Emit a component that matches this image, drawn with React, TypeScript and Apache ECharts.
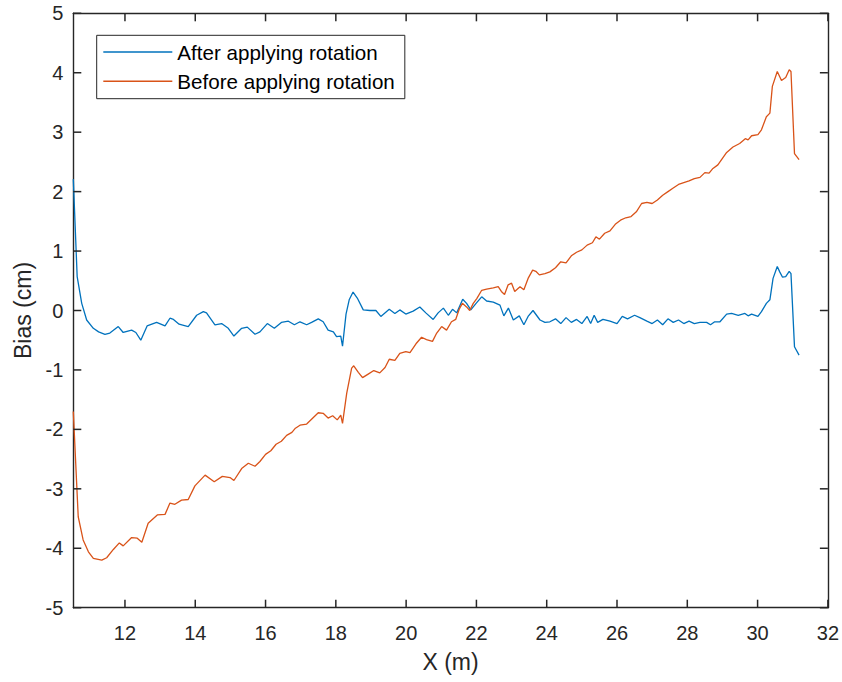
import React, { useEffect, useRef } from "react";
import * as echarts from "echarts";

// Bias along X after rotation correction (cm vs m)
const afterX = [
  10.53, 10.64, 10.77, 10.91, 11.1, 11.25, 11.43, 11.57, 11.81, 11.95, 12.19, 12.31, 12.45, 12.63,
  12.9, 13.14, 13.28, 13.38, 13.54, 13.8, 14.04, 14.23, 14.32, 14.56, 14.75, 14.94, 15.1, 15.32,
  15.48, 15.7, 15.84, 16.05, 16.25, 16.45, 16.65, 16.82, 16.98, 17.17, 17.31, 17.5, 17.64, 17.78,
  17.93, 18.02, 18.14, 18.19, 18.29, 18.38, 18.49, 18.61, 18.78, 18.97, 19.14, 19.28, 19.52, 19.68,
  19.82, 19.99, 20.2, 20.39, 20.56, 20.77, 20.91, 21.06, 21.2, 21.32, 21.44, 21.61, 21.72, 21.84,
  21.99, 22.15, 22.29, 22.48, 22.67, 22.78, 22.91, 23.05, 23.22, 23.35, 23.47, 23.61, 23.81, 23.95,
  24.09, 24.25, 24.4, 24.55, 24.7, 24.85, 25.0, 25.15, 25.25, 25.35, 25.45, 25.6, 25.8, 26.0,
  26.15, 26.3, 26.5, 26.65, 26.85, 27.0, 27.15, 27.3, 27.45, 27.6, 27.75, 27.9, 28.05, 28.2,
  28.36, 28.55, 28.66, 28.78, 28.93, 29.12, 29.26, 29.45, 29.64, 29.73, 29.83, 30.01, 30.11, 30.25,
  30.35, 30.44, 30.56, 30.63, 30.71, 30.8, 30.9, 30.95, 31.05, 31.18,
];
const afterBias = [
  2.21, 0.57, 0.12, -0.16, -0.3, -0.36, -0.4, -0.38, -0.27, -0.37, -0.33, -0.37, -0.5, -0.26,
  -0.2, -0.26, -0.13, -0.15, -0.23, -0.27, -0.08, -0.02, -0.04, -0.24, -0.22, -0.3, -0.43, -0.3,
  -0.28, -0.4, -0.36, -0.22, -0.3, -0.2, -0.18, -0.24, -0.19, -0.24, -0.2, -0.14, -0.19, -0.33,
  -0.36, -0.44, -0.43, -0.6, -0.06, 0.18, 0.31, 0.21, 0.01, 0.0, 0.0, -0.1, 0.02, -0.05,
  0.01, -0.06, -0.01, 0.06, -0.04, -0.15, -0.04, 0.04, -0.08, 0.02, -0.04, 0.19, 0.12, 0.01,
  0.12, 0.23, 0.16, 0.14, 0.09, -0.09, 0.04, -0.16, -0.09, -0.24, -0.1, 0.0, -0.16, -0.2,
  -0.19, -0.14, -0.22, -0.12, -0.2, -0.15, -0.22, -0.1, -0.22, -0.08, -0.2, -0.15, -0.18, -0.22,
  -0.1, -0.14, -0.08, -0.12, -0.18, -0.22, -0.16, -0.24, -0.14, -0.2, -0.16, -0.22, -0.18, -0.22,
  -0.2, -0.2, -0.24, -0.19, -0.19, -0.06, -0.05, -0.08, -0.05, -0.09, -0.06, -0.1, -0.02, 0.12,
  0.18, 0.54, 0.74, 0.65, 0.56, 0.57, 0.66, 0.62, -0.61, -0.75,
];

// Bias along X before rotation correction
const beforeX = [
  10.53, 10.67, 10.81, 10.96, 11.1, 11.34, 11.48, 11.67, 11.84, 11.95, 12.19, 12.35, 12.48, 12.66,
  12.92, 13.14, 13.28, 13.42, 13.61, 13.8, 13.99, 14.28, 14.54, 14.77, 14.99, 15.1, 15.32, 15.51,
  15.7, 15.84, 16.0, 16.15, 16.3, 16.45, 16.6, 16.75, 16.85, 16.98, 17.17, 17.36, 17.5, 17.64,
  17.78, 17.91, 18.04, 18.14, 18.19, 18.31, 18.45, 18.51, 18.64, 18.76, 18.92, 19.08, 19.25, 19.4,
  19.52, 19.68, 19.82, 19.99, 20.11, 20.28, 20.44, 20.58, 20.75, 20.86, 21.01, 21.15, 21.29, 21.41,
  21.51, 21.6, 21.72, 21.81, 21.91, 22.01, 22.15, 22.29, 22.48, 22.62, 22.71, 22.8, 22.9, 23.0,
  23.09, 23.24, 23.35, 23.47, 23.6, 23.69, 23.79, 23.95, 24.09, 24.25, 24.4, 24.55, 24.7, 24.85,
  25.0, 25.15, 25.3, 25.4, 25.5, 25.65, 25.8, 25.95, 26.1, 26.25, 26.4, 26.55, 26.7, 26.85,
  27.0, 27.15, 27.3, 27.45, 27.6, 27.75, 27.9, 28.05, 28.2, 28.36, 28.5, 28.62, 28.73, 28.87,
  29.12, 29.3, 29.49, 29.65, 29.73, 29.83, 30.01, 30.11, 30.25, 30.35, 30.42, 30.56, 30.68, 30.8,
  30.9, 30.95, 31.05, 31.18,
];
const beforeBias = [
  -1.7, -3.47, -3.86, -4.06, -4.17, -4.2, -4.16, -4.02, -3.91, -3.96, -3.82, -3.83, -3.9, -3.58,
  -3.44, -3.43, -3.24, -3.26, -3.19, -3.18, -2.95, -2.77, -2.88, -2.79, -2.81, -2.86, -2.66, -2.57,
  -2.62, -2.54, -2.42, -2.36, -2.25, -2.2, -2.1, -2.05, -1.98, -1.93, -1.91, -1.8, -1.72, -1.73,
  -1.81, -1.77, -1.84, -1.76, -1.9, -1.39, -0.97, -0.93, -1.04, -1.13, -1.07, -1.01, -1.05, -0.96,
  -0.82, -0.84, -0.72, -0.69, -0.71, -0.56, -0.45, -0.49, -0.52, -0.39, -0.27, -0.33, -0.19, -0.15,
  0.02, 0.12, 0.06, 0.0, 0.12, 0.2, 0.34, 0.36, 0.38, 0.4, 0.32, 0.27, 0.43, 0.46,
  0.32, 0.4, 0.35, 0.54, 0.68, 0.66, 0.6, 0.62, 0.65, 0.72, 0.82, 0.8, 0.92, 0.98,
  1.02, 1.1, 1.14, 1.24, 1.2, 1.3, 1.34, 1.45, 1.52, 1.56, 1.58, 1.66, 1.8, 1.82,
  1.8, 1.86, 1.94, 2.0, 2.06, 2.12, 2.15, 2.18, 2.22, 2.24, 2.32, 2.31, 2.39, 2.45,
  2.66, 2.75, 2.81, 2.89, 2.87, 2.94, 2.96, 3.04, 3.26, 3.32, 3.77, 4.02, 3.87, 3.92,
  4.05, 4.02, 2.64, 2.54,
];

const X_MIN = 10.53;
const X_MAX = 32;
const Y_MIN = -5;
const Y_MAX = 5;
const xTicks = [12, 14, 16, 18, 20, 22, 24, 26, 28, 30, 32];
const yTicks = [-5, -4, -3, -2, -1, 0, 1, 2, 3, 4, 5];
const seriesNames = ["After applying rotation", "Before applying rotation"];
const seriesColors = ["#0072BD", "#D95319"];

const FONT = "'Liberation Sans', Arial, Helvetica, sans-serif";
const INK = "#262626";
const TICK_LEN = 8;

function zip(xs: number[], ys: number[]): number[][] {
  return xs.map((x, i) => [x, ys[i]]);
}

function axisLine() {
  return { show: true, onZero: false, lineStyle: { color: INK, width: 1.4 } };
}

function tickLine(x1: number, y1: number, x2: number, y2: number) {
  return {
    type: "line",
    silent: true,
    z: 100,
    shape: { x1, y1, x2, y2 },
    style: { stroke: INK, lineWidth: 1.5 },
  };
}

export default function App() {
  const ref = useRef<HTMLDivElement>(null);

  useEffect(() => {
    if (!ref.current) return;
    const chart = echarts.init(ref.current, null, { renderer: "svg" });

    chart.setOption({
      animation: false,
      grid: { left: 73.3, top: 13.3, right: 14, bottom: 74.3 },
      legend: {
        orient: "vertical",
        left: 96.7,
        top: 35.3,
        padding: [5.7, 10, 6.4, 6.6],
        icon: "rect",
        itemWidth: 69,
        itemHeight: 1.5,
        itemGap: 7.3,
        borderColor: INK,
        borderWidth: 1,
        textStyle: { fontFamily: FONT, fontSize: 20.6, color: "#000000", lineHeight: 22 },
        data: seriesNames,
      },
      xAxis: [
        {
          type: "value",
          position: "bottom",
          min: X_MIN,
          max: X_MAX,
          name: "X (m)",
          nameLocation: "middle",
          nameGap: 43,
          nameTextStyle: { fontFamily: FONT, fontSize: 23, color: INK },
          axisLine: axisLine(),
          axisTick: { show: false },
          axisLabel: {
            customValues: xTicks,
            margin: 15,
            fontFamily: FONT,
            fontSize: 20,
            color: INK,
          },
          splitLine: { show: false },
        },
        {
          type: "value",
          position: "top",
          min: X_MIN,
          max: X_MAX,
          axisLine: axisLine(),
          axisTick: { show: false },
          axisLabel: { show: false },
          splitLine: { show: false },
        },
      ],
      yAxis: [
        {
          type: "value",
          position: "left",
          min: Y_MIN,
          max: Y_MAX,
          interval: 1,
          name: "Bias (cm)",
          nameLocation: "middle",
          nameGap: 39,
          nameTextStyle: { fontFamily: FONT, fontSize: 23, color: INK },
          axisLine: axisLine(),
          axisTick: { show: false },
          axisLabel: { margin: 10, fontFamily: FONT, fontSize: 20, color: INK },
          splitLine: { show: false },
        },
        {
          type: "value",
          position: "right",
          min: Y_MIN,
          max: Y_MAX,
          interval: 1,
          axisLine: axisLine(),
          axisTick: { show: false },
          axisLabel: { show: false },
          splitLine: { show: false },
        },
      ],
      series: [
        {
          name: seriesNames[0],
          type: "line",
          data: zip(afterX, afterBias),
          symbol: "none",
          showSymbol: false,
          color: seriesColors[0],
          lineStyle: { color: seriesColors[0], width: 1.3 },
        },
        {
          name: seriesNames[1],
          type: "line",
          data: zip(beforeX, beforeBias),
          symbol: "none",
          showSymbol: false,
          color: seriesColors[1],
          lineStyle: { color: seriesColors[1], width: 1.3 },
        },
      ],
    });

    // Inward ticks on all four sides of the frame, placed through the grid's scales
    const toPx = (p: number[]) => chart.convertToPixel({ gridIndex: 0 }, p) as number[];
    const ticks: any[] = [];
    xTicks.forEach((v) => {
      const b = toPx([v, Y_MIN]);
      const t = toPx([v, Y_MAX]);
      ticks.push(tickLine(b[0], b[1], b[0], b[1] - TICK_LEN));
      ticks.push(tickLine(t[0], t[1], t[0], t[1] + TICK_LEN));
    });
    yTicks.forEach((v) => {
      const l = toPx([X_MIN, v]);
      const r = toPx([X_MAX, v]);
      ticks.push(tickLine(l[0], l[1], l[0] + TICK_LEN, l[1]));
      ticks.push(tickLine(r[0], r[1], r[0] - TICK_LEN, r[1]));
    });
    chart.setOption({ graphic: { elements: ticks } });

    return () => chart.dispose();
  }, []);

  return <div ref={ref} style={{ position: "absolute", left: 0, top: 0, width: 842, height: 682 }} />;
}
